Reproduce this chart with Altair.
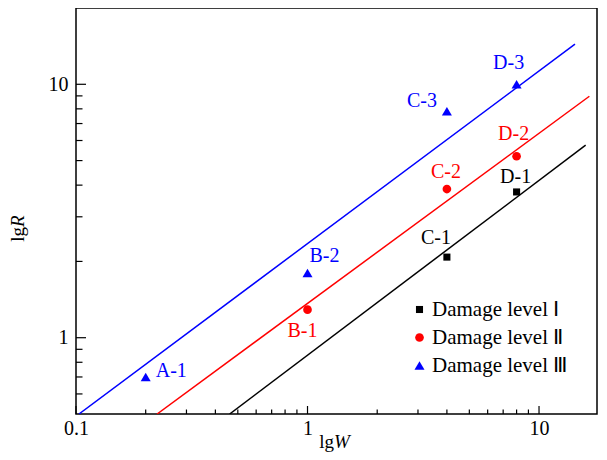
import altair as alt
import pandas as pd

# ---------------- data ----------------
point_labels = ["A-1", "B-1", "B-2", "C-1", "C-2", "C-3", "D-1", "D-2", "D-3"]
point_W = [0.2, 1, 1, 4, 4, 4, 8, 8, 8]
point_R = [0.70, 1.29, 1.80, 2.08, 3.86, 7.83, 3.76, 5.2, 10.0]
point_level = ["Damage level Ⅲ", "Damage level Ⅱ", "Damage level Ⅲ",
               "Damage level Ⅰ", "Damage level Ⅱ", "Damage level Ⅲ",
               "Damage level Ⅰ", "Damage level Ⅱ", "Damage level Ⅲ"]

level_names = ["Damage level Ⅰ", "Damage level Ⅱ", "Damage level Ⅲ"]
fit_W_start = [0.461, 0.224, 0.103]
fit_W_end = [15.9, 16.5, 14.3]
fit_R_start = [0.5, 0.5, 0.5]
fit_R_end = [5.75, 8.97, 14.4]

x_major = [0.1, 1, 10]
x_minor = [0.2, 0.3, 0.4, 0.5, 0.6, 0.7, 0.8, 0.9, 2, 3, 4, 5, 6, 7, 8, 9]
y_major = [1, 10]
y_minor = [0.6, 0.7, 0.8, 0.9, 2, 3, 4, 5, 6, 7, 8, 9]

# ---------------- styling ----------------
W_PX, H_PX = 521, 406
FONT = "Liberation Serif"
level_colors = ["black", "red", "blue"]
level_shapes = ["square", "circle", "triangle-up"]
level_sizes = [50, 100, 140]
label_color = {"A-1": "blue", "B-1": "red", "B-2": "blue", "C-1": "black", "C-2": "red",
               "C-3": "blue", "D-1": "black", "D-2": "red", "D-3": "blue"}
label_offset = {"A-1": ("left", 10, -6), "B-1": ("center", -5, 21), "B-2": ("center", 17, -17),
                "C-1": ("center", -11, -19), "C-2": ("center", -1, -17), "C-3": ("center", -25, -10),
                "D-1": ("center", -1, -15), "D-2": ("center", -3, -22), "D-3": ("center", -8, -21)}

pts = pd.DataFrame({"label": point_labels, "W": point_W, "R": point_R, "level": point_level})
fit_rows = []
for lv, w0, w1, r0, r1 in zip(level_names, fit_W_start, fit_W_end, fit_R_start, fit_R_end):
    fit_rows.append({"level": lv, "W": w0, "R": r0})
    fit_rows.append({"level": lv, "W": w1, "R": r1})
fit = pd.DataFrame(fit_rows)

xscale = alt.Scale(type="log", domain=[0.1, 17.8], nice=False)
yscale = alt.Scale(type="log", domain=[0.5, 20], nice=False)
xaxis = alt.Axis(values=x_major, format="~g", title=None, ticks=False, domain=False,
                 grid=False, labelFont=FONT, labelFontSize=20, labelColor="black",
                 labelPadding=4, labelFlush=False, labelOverlap=False)
yaxis = alt.Axis(values=y_major, format="~g", title=None, ticks=False, domain=False,
                 grid=False, labelFont=FONT, labelFontSize=20, labelColor="black",
                 labelPadding=8, labelOverlap=False)
X = alt.X("W:Q", scale=xscale, axis=xaxis)
Y = alt.Y("R:Q", scale=yscale, axis=yaxis)

line_layers = []
for lv, col in zip(level_names, level_colors):
    line_layers.append(
        alt.Chart(fit).transform_filter(alt.datum.level == lv).mark_line(
            strokeWidth=1.5, clip=True, color=col
        ).encode(x=X, y=Y)
    )

points = alt.Chart(pts).mark_point(filled=True, opacity=1).encode(
    x=X, y=Y,
    color=alt.Color("level:N", scale=alt.Scale(domain=level_names, range=level_colors), title=None),
    shape=alt.Shape("level:N", scale=alt.Scale(domain=level_names, range=level_shapes), title=None),
    size=alt.Size("level:N", scale=alt.Scale(domain=level_names, range=level_sizes), title=None),
)

text_layers = []
for lab in point_labels:
    al, dx, dy = label_offset[lab]
    text_layers.append(
        alt.Chart(pts).transform_filter(alt.datum.label == lab).mark_text(
            font=FONT, fontSize=20, align=al, baseline="middle", dx=dx, dy=dy,
            color=label_color[lab]
        ).encode(x=X, y=Y, text="label:N")
    )

xt_major = alt.Chart(pd.DataFrame({"W": x_major})).mark_rule(color="black", strokeWidth=1.2).encode(
    x=X, y=alt.value(H_PX), y2=alt.value(H_PX - 8))
xt_minor = alt.Chart(pd.DataFrame({"W": x_minor})).mark_rule(color="black", strokeWidth=1.2).encode(
    x=X, y=alt.value(H_PX), y2=alt.value(H_PX - 4.5))
yt_major = alt.Chart(pd.DataFrame({"R": y_major})).mark_rule(color="black", strokeWidth=1.2).encode(
    y=Y, x=alt.value(0), x2=alt.value(10))
yt_minor = alt.Chart(pd.DataFrame({"R": y_minor})).mark_rule(color="black", strokeWidth=1.2).encode(
    y=Y, x=alt.value(0), x2=alt.value(6.5))

one = alt.Data(values=[{}])
xt1 = alt.Chart(one).mark_text(text="lg", font=FONT, fontSize=19, align="right", baseline="middle",
                               color="black").encode(x=alt.value(258), y=alt.value(434))
xt2 = alt.Chart(one).mark_text(text="W", font=FONT, fontSize=19, fontStyle="italic", align="left",
                               baseline="middle", color="black").encode(x=alt.value(258), y=alt.value(434))
yt1 = alt.Chart(one).mark_text(text="lg", font=FONT, fontSize=19, align="right", baseline="middle",
                               angle=270, color="black").encode(x=alt.value(-58), y=alt.value(219))
yt2 = alt.Chart(one).mark_text(text="R", font=FONT, fontSize=19, fontStyle="italic", align="left",
                               baseline="middle", angle=270, color="black").encode(x=alt.value(-58), y=alt.value(219))

chart = alt.layer(
    *line_layers, xt_major, xt_minor, yt_major, yt_minor, points, *text_layers, xt1, xt2, yt1, yt2
).properties(
    width=W_PX, height=H_PX,
    autosize=alt.AutoSizeParams(type="none"),
    padding={"left": 68, "top": 0, "right": 2, "bottom": 38},
).configure(
    font=FONT
).configure_view(
    stroke="black", strokeWidth=1.5
).configure_legend(
    orient="none", legendX=333, legendY=291, padding=0, labelFont=FONT, labelFontSize=21,
    labelColor="black", rowPadding=6, labelOffset=2, symbolStrokeWidth=0,
)

chart.save("out.html", embed_options={"renderer": "svg", "actions": False})
